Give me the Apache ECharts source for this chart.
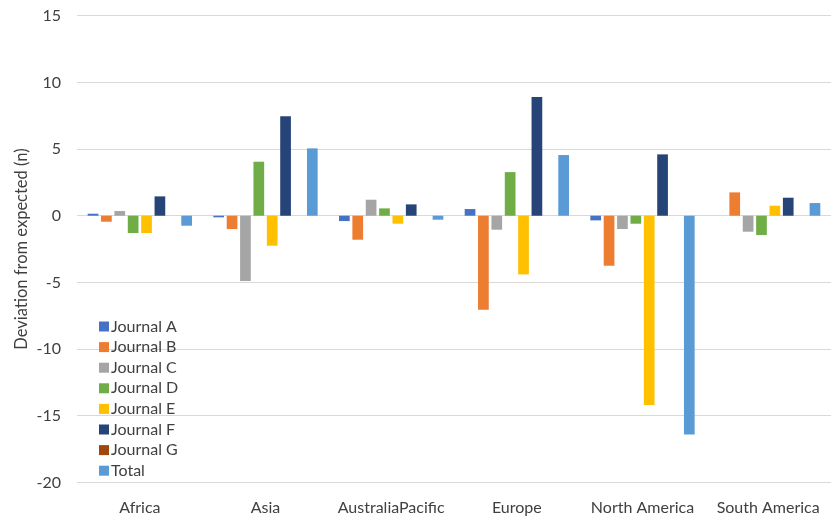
<!DOCTYPE html>
<html>
<head>
<meta charset="utf-8">
<script src="https://cdn.jsdelivr.net/npm/echarts@6/dist/echarts.min.js"></script>
<style>
  html, body { margin: 0; padding: 0; background: #fff; }
  #chart { width: 831px; height: 518px; }
</style>
</head>
<body>
<div id="chart"></div>
<script>
// Regions along the category axis
const regions = ['Africa', 'Asia', 'AustraliaPacific', 'Europe', 'North America', 'South America'];

// Deviation from expected count, one array per journal (order follows regions)
const journalA = [0.15, -0.12, -0.4, 0.5, -0.35, 0];
const journalB = [-0.45, -1.0, -1.8, -7.05, -3.75, 1.75];
const journalC = [0.35, -4.9, 1.2, -1.05, -1.0, -1.2];
const journalD = [-1.3, 4.05, 0.55, 3.27, -0.6, -1.45];
const journalE = [-1.3, -2.25, -0.6, -4.4, -14.2, 0.75];
const journalF = [1.45, 7.45, 0.85, 8.9, 4.6, 1.35];
const journalG = [0, 0, 0, 0, 0, 0];
const total    = [-0.75, 5.05, -0.3, 4.55, -16.4, 0.95];

// Value axis ticks
const yMin = -20, yMax = 15, yStep = 5;

const seriesDefs = [
  ['Journal A', journalA, '#4472C4'],
  ['Journal B', journalB, '#ED7D31'],
  ['Journal C', journalC, '#A5A5A5'],
  ['Journal D', journalD, '#70AD47'],
  ['Journal E', journalE, '#FFC000'],
  ['Journal F', journalF, '#264478'],
  ['Journal G', journalG, '#9E480E'],
  ['Total', total, '#5B9BD5']
];

const font = 'Lato, "Open Sans", sans-serif';
const chart = echarts.init(document.getElementById('chart'), null, { renderer: 'canvas' });

chart.setOption({
  animation: false,
  backgroundColor: '#ffffff',
  textStyle: { fontFamily: font },
  grid: { left: 77, right: -13, top: 15.7, bottom: 35.6, containLabel: false },
  legend: {
    orient: 'vertical',
    left: 94,
    top: 313.5,
    itemWidth: 10,
    itemHeight: 10,
    itemGap: 4.6,
    icon: 'rect',
    textStyle: { fontFamily: font, fontSize: 16, lineHeight: 14, color: '#404040', padding: [0, 0, 0, -3] },
    data: seriesDefs.map(d => d[0])
  },
  xAxis: {
    type: 'category',
    data: regions,
    position: 'bottom',
    axisLine: { show: false, onZero: false },
    axisTick: { show: false },
    axisLabel: { fontFamily: font, fontSize: 16, color: '#404040', margin: 17, interval: 0 }
  },
  yAxis: {
    type: 'value',
    min: yMin,
    max: yMax,
    interval: yStep,
    name: 'Deviation from expected (n)',
    nameLocation: 'middle',
    nameGap: 47,
    nameRotate: 90,
    nameMoveOverlap: false,
    nameTextStyle: { fontFamily: font, fontSize: 16.5, color: '#404040' },
    axisLine: { show: false },
    axisTick: { show: false },
    axisLabel: { fontFamily: font, fontSize: 16, color: '#404040', margin: 16 },
    splitLine: { lineStyle: { color: '#d9d9d9', width: 1 } }
  },
  series: seriesDefs.map(([name, data, color]) => ({
    name: name,
    type: 'bar',
    data: data,
    barWidth: 10.7,
    barGap: '25%',
    itemStyle: { color: color }
  }))
});
</script>
</body>
</html>
